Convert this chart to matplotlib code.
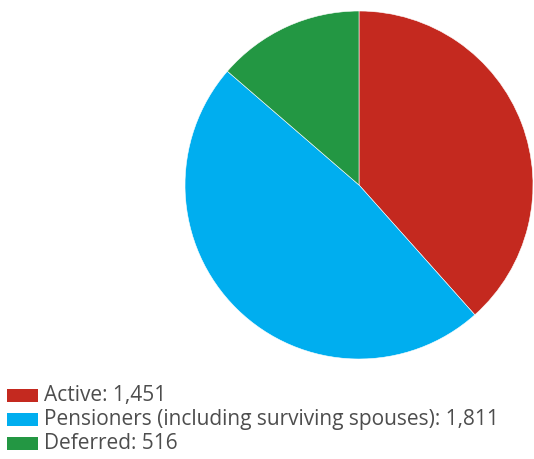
import matplotlib
matplotlib.use("Agg")
import matplotlib.pyplot as plt
from matplotlib.patches import Rectangle

categories = ["Active", "Pensioners (including surviving spouses)", "Deferred"]
values = [1451, 1811, 516]
colors = ["#C4291F", "#00AEEF", "#239743"]

W, H = 534, 459
fig = plt.figure(figsize=(W/100, H/100), dpi=100)
cx, cy, r = 359, 185, 174
ax = fig.add_axes([(cx - r)/W, (H - cy - r)/H, 2*r/W, 2*r/H])
ax.pie(values, colors=colors, startangle=90, counterclock=False,
       wedgeprops=dict(edgecolor="white", linewidth=0.4))
ax.set_xlim(-1, 1)
ax.set_ylim(-1, 1)
ax.set_axis_off()

row_y = [395, 419, 443]
for cat, val, col, y in zip(categories, values, colors, row_y):
    fig.patches.append(Rectangle((7/W, 1 - (y + 6.5)/H), 31/W, 13/H,
                                 transform=fig.transFigure, facecolor=col, edgecolor="none"))
    fig.text(44/W, 1 - (y + 0.5)/H, f"{cat}: {val:,}", ha="left", va="center",
             fontsize=15, color="#4D4D4D", family="Open Sans")

fig.savefig("out.png", dpi=100)
